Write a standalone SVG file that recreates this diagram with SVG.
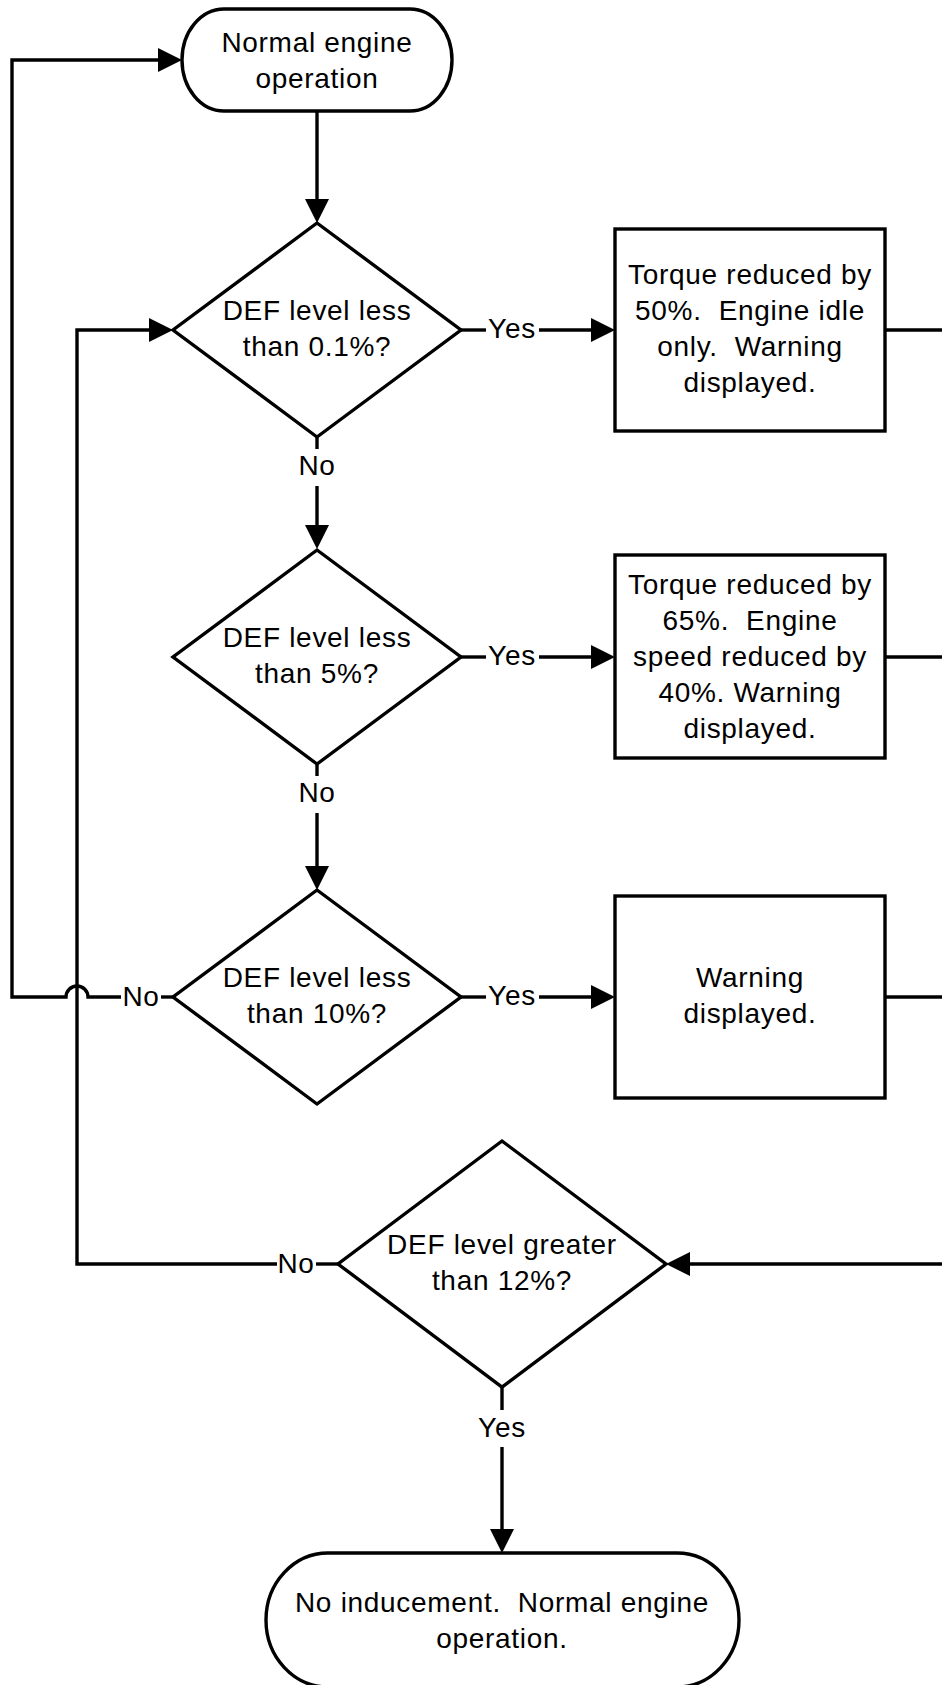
<svg xmlns="http://www.w3.org/2000/svg" width="942" height="1685" viewBox="0 0 942 1685">
<style>
  .shape { fill: #ffffff; stroke: #000000; stroke-width: 3.4; }
  .line { fill: none; stroke: #000000; stroke-width: 3.4; }
  text { font-family: "Liberation Sans", Arial, sans-serif; font-size: 28px; letter-spacing: 0.7px; fill: #000000; text-anchor: middle; }
</style>
<defs>
  <marker id="arr" viewBox="0 0 24 24" refX="14" refY="12" markerWidth="24" markerHeight="24" markerUnits="userSpaceOnUse" orient="auto">
    <path d="M0,0 L24,12 L0,24 z" fill="#000000"/>
  </marker>
</defs>
<rect width="942" height="1685" fill="#ffffff"/>

<g id="connectors">
  <path class="line" d="M317 111 V213" marker-end="url(#arr)"/>
  <path class="line" d="M461 330 H486"/>
  <path class="line" d="M539 330 H605" marker-end="url(#arr)"/>
  <path class="line" d="M317 437 V449"/>
  <path class="line" d="M317 486 V539" marker-end="url(#arr)"/>
  <path class="line" d="M461 657 H486"/>
  <path class="line" d="M539 657 H605" marker-end="url(#arr)"/>
  <path class="line" d="M317 764 V776"/>
  <path class="line" d="M317 813 V880" marker-end="url(#arr)"/>
  <path class="line" d="M461 997 H486"/>
  <path class="line" d="M539 997 H605" marker-end="url(#arr)"/>
  <path class="line" d="M173 997 H161"/>
  <path class="line" d="M121 997 H88 A11 11 0 0 0 66 997 H12 V60 H172" marker-end="url(#arr)"/>
  <path class="line" d="M885 330 H946 V1264 H676" marker-end="url(#arr)"/>
  <path class="line" d="M885 657 H946"/>
  <path class="line" d="M885 997 H946"/>
  <path class="line" d="M338 1264 H316"/>
  <path class="line" d="M277 1264 H77 V330 H163" marker-end="url(#arr)"/>
  <path class="line" d="M502 1387 V1410"/>
  <path class="line" d="M502 1447 V1543" marker-end="url(#arr)"/>
  <text x="512" y="338">Yes</text>
  <text x="317" y="475">No</text>
  <text x="512" y="665">Yes</text>
  <text x="317" y="802">No</text>
  <text x="512" y="1005">Yes</text>
  <text x="141" y="1006">No</text>
  <text x="296" y="1273">No</text>
  <text x="502" y="1437">Yes</text>
</g>

<g id="start">
  <rect class="shape" x="182" y="9" width="270" height="102" rx="42" ry="51"/>
  <text x="317" y="52">Normal engine</text>
  <text x="317" y="88">operation</text>
</g>

<g id="decision1">
  <polygon class="shape" points="317,223 461,330 317,437 173,330"/>
  <text x="317" y="319.5">DEF level less</text>
  <text x="317" y="355.5">than 0.1%?</text>
</g>

<g id="action1">
  <rect class="shape" x="615" y="229" width="270" height="202"/>
  <text x="750" y="284">Torque reduced by</text>
  <text x="750" y="320">50%.&#160; Engine idle</text>
  <text x="750" y="356">only.&#160; Warning</text>
  <text x="750" y="392">displayed.</text>
</g>

<g id="decision2">
  <polygon class="shape" points="317,550 461,657 317,764 173,657"/>
  <text x="317" y="646.5">DEF level less</text>
  <text x="317" y="682.5">than 5%?</text>
</g>

<g id="action2">
  <rect class="shape" x="615" y="555" width="270" height="203"/>
  <text x="750" y="594">Torque reduced by</text>
  <text x="750" y="630">65%.&#160; Engine</text>
  <text x="750" y="666">speed reduced by</text>
  <text x="750" y="702">40%. Warning</text>
  <text x="750" y="738">displayed.</text>
</g>

<g id="decision3">
  <polygon class="shape" points="317,890 461,997 317,1104 173,997"/>
  <text x="317" y="986.5">DEF level less</text>
  <text x="317" y="1022.5">than 10%?</text>
</g>

<g id="action3">
  <rect class="shape" x="615" y="896" width="270" height="202"/>
  <text x="750" y="987">Warning</text>
  <text x="750" y="1023">displayed.</text>
</g>

<g id="decision4">
  <polygon class="shape" points="502,1141 666,1264 502,1387 338,1264"/>
  <text x="502" y="1253.5">DEF level greater</text>
  <text x="502" y="1289.5">than 12%?</text>
</g>

<g id="end">
  <rect class="shape" x="266" y="1553" width="473" height="134" rx="62" ry="67"/>
  <text x="502" y="1612">No inducement.&#160; Normal engine</text>
  <text x="502" y="1648">operation.</text>
</g>
</svg>
